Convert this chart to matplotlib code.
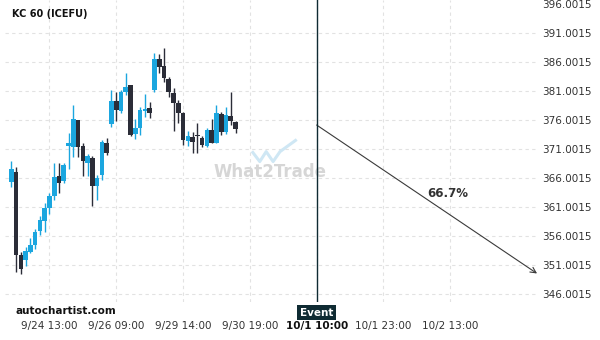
import matplotlib
matplotlib.use("Agg")
import matplotlib.pyplot as plt
import matplotlib.transforms as mtransforms

# ------------------------
# KC 60 (ICEFU) candles
# ------------------------
opens = [365.38, 367.04, 352.83, 351.97, 353.29, 354.55, 356.85, 358.67, 360.91, 362.97,
         366.36, 365.55, 371.56, 371.39, 375.98, 371.51, 368.64, 369.50, 364.64, 366.53,
         372.08, 375.24, 379.25, 377.58, 380.74, 382.00, 373.58, 374.66, 377.53, 378.04,
         381.14, 386.47, 385.26, 383.03, 380.67, 378.96, 377.13, 372.37, 373.11, 373.35,
         372.84, 371.51, 374.26, 372.08, 377.01, 373.97, 376.67, 375.69]
highs = [368.93, 367.95, 353.29, 354.20, 355.70, 357.30, 359.48, 361.66, 363.38, 368.54,
         368.54, 368.54, 373.70, 378.56, 376.05, 371.98, 370.14, 369.79, 366.53, 372.54,
         372.84, 381.14, 380.85, 381.14, 384.01, 382.05, 376.10, 378.27, 380.45, 379.13,
         387.45, 387.33, 388.31, 383.43, 381.43, 379.42, 377.41, 374.14, 373.97, 375.41,
         373.23, 374.56, 376.10, 378.56, 377.41, 378.27, 380.74, 375.75]
lows = [364.46, 349.90, 349.46, 350.83, 353.07, 353.86, 356.21, 356.68, 359.82, 362.23,
        363.38, 365.10, 367.51, 369.67, 369.67, 366.41, 366.41, 361.20, 362.23, 365.67,
        369.97, 374.83, 375.81, 377.13, 380.28, 373.23, 372.66, 373.40, 376.45, 376.27,
        380.85, 384.01, 382.57, 379.99, 374.01, 375.41, 371.68, 371.51, 370.26, 370.36,
        371.29, 371.29, 371.98, 371.98, 373.40, 373.58, 375.12, 373.70]
closes = [367.56, 352.83, 350.32, 353.51, 354.49, 356.73, 358.84, 360.91, 362.92, 366.18,
          365.20, 368.25, 372.08, 376.15, 371.39, 368.99, 369.79, 364.64, 366.06, 372.25,
          370.26, 379.25, 377.70, 380.74, 381.71, 373.46, 374.66, 377.70, 377.87, 377.24,
          386.47, 385.14, 383.25, 380.85, 378.96, 377.13, 372.54, 373.23, 372.25, 373.23,
          371.68, 374.26, 372.08, 377.24, 373.97, 376.84, 375.81, 374.43]

tick_pos = [8, 22, 36, 50, 64, 78, 92]
tick_labels = ["9/24 13:00", "9/26 09:00", "9/29 14:00", "9/30 19:00",
               "10/1 10:00", "10/1 23:00", "10/2 13:00"]
price_ticks = [346.0015, 351.0015, 356.0015, 361.0015, 366.0015, 371.0015,
               376.0015, 381.0015, 386.0015, 391.0015, 396.0015]

event_idx = 64
event_price = 375.12
target_idx = 110.2
target_price = 349.6
prob_label = "66.7%"
prob_pos = (91.5, 363.4)

bull = "#1ba6df"
bear = "#2b2d38"
event_col = "#0f2b33"
txt = "#333333"

fig = plt.figure(figsize=(6, 3.4), dpi=100)
ax = fig.add_axes([5/600, 38/340, 533/600, 302/340])

for i, (o, h, l, c) in enumerate(zip(opens, highs, lows, closes)):
    col = bull if c >= o else bear
    ax.vlines(i, l, h, color=col, lw=1.0, zorder=3)
    ax.bar(i, max(abs(c - o), 0.12), bottom=min(o, c), width=0.97,
           color=col, lw=0, zorder=4)

ax.set_xlim(-1.32, 110.4)
ax.set_ylim(344.70, 396.61)
for s in ax.spines.values():
    s.set_visible(False)

ax.grid(True, ls=(0, (3, 3)), color="#e2e2e2", lw=0.8)
ax.set_axisbelow(True)

ax.yaxis.tick_right()
ax.set_yticks(price_ticks, [f"{v:.4f}" for v in price_ticks])
ax.get_ygridlines()[-1].set_visible(False)
ax.tick_params(axis="y", length=0, pad=3, labelsize=7.5, labelcolor=txt)

ax.set_xticks(tick_pos, tick_labels)
ax.tick_params(axis="x", length=0, pad=14, labelsize=7.5, labelcolor=txt)
for lbl, pos in zip(ax.get_xticklabels(), tick_pos):
    if pos == event_idx:
        lbl.set_fontweight("bold")
        lbl.set_color("#111111")

# event marker
ax.axvline(event_idx, color=event_col, lw=1.0, zorder=5)
trans = mtransforms.blended_transform_factory(ax.transData, ax.transAxes)
ax.text(event_idx, -0.035, "Event", transform=trans, ha="center", va="center",
        color="white", fontsize=7.5, fontweight="bold", zorder=6,
        bbox=dict(boxstyle="square,pad=0.25", fc=event_col, ec="none"))

# forecast arrow
ax.annotate("", xy=(target_idx, target_price), xytext=(event_idx, event_price),
            arrowprops=dict(arrowstyle="->", color="#3a3a3a", lw=0.8,
                            shrinkA=0, shrinkB=0, mutation_scale=10),
            annotation_clip=False)
ax.text(prob_pos[0], prob_pos[1], prob_label, ha="center", va="center",
        fontsize=8.5, fontweight="bold", color=txt)

# watermark
ax.plot([0.465, 0.478, 0.490, 0.503, 0.516, 0.545], [0.495, 0.465, 0.498, 0.465, 0.498, 0.535],
        transform=ax.transAxes, color="#cfe7f4", lw=2.2, zorder=1)
ax.text(0.497, 0.43, "What2Trade", transform=ax.transAxes, ha="center", va="center",
        fontsize=12, fontweight="bold", color="#d6d6d6", zorder=1)

fig.text(12/600, 1 - 14/340, "KC 60 (ICEFU)", ha="left", va="center",
         fontsize=7, fontweight="bold", color="#111111")
fig.text(15/600, 1 - 311/340, "autochartist.com", ha="left", va="center",
         fontsize=7.5, fontweight="bold", color="#111111")

fig.savefig("out.png", dpi=100)
